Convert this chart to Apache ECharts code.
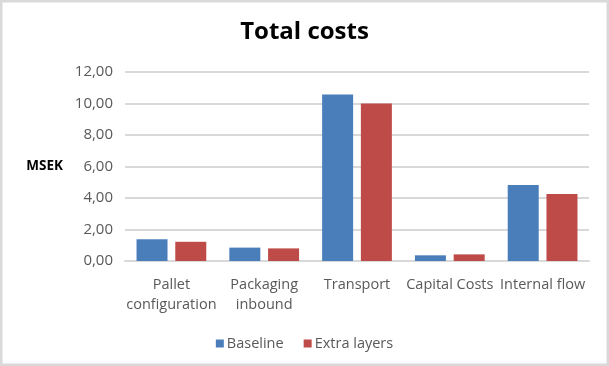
<!DOCTYPE html>
<html>
<head>
<meta charset="utf-8">
<script src="https://cdn.jsdelivr.net/npm/echarts@6/dist/echarts.min.js"></script>
<style>
  html, body { margin: 0; padding: 0; background: #ffffff; }
  #chart { width: 609px; height: 366px; }
</style>
</head>
<body>
<div id="chart"></div>
<script>
// Cost categories (line breaks mirror the wrapped axis labels)
const categories = ['Pallet\nconfiguration', 'Packaging\ninbound', 'Transport', 'Capital Costs', 'Internal flow'];
// Total costs in MSEK per scenario
const baseline = [1.38, 0.85, 10.57, 0.36, 4.82];
const extraLayers = [1.22, 0.80, 10.00, 0.42, 4.25];
const seriesNames = ['Baseline', 'Extra layers'];
// Value axis range
const yMin = 0;
const yMax = 12;
const yStep = 2;

const font = '"Open Sans", "Liberation Sans", sans-serif';
const chart = echarts.init(document.getElementById('chart'), null, { renderer: 'canvas' });

chart.setOption({
  animation: false,
  backgroundColor: '#ffffff',
  title: {
    text: 'Total costs',
    left: 'center',
    top: 15,
    textStyle: { fontFamily: font, fontSize: 24, fontWeight: 'bold', color: '#000000' }
  },
  graphic: [{
    type: 'rect',
    shape: { x: 1, y: 1, width: 607, height: 364 },
    style: { fill: null, stroke: '#d9d9d9', lineWidth: 3 },
    silent: true
  }],
  legend: {
    data: seriesNames,
    top: 331,
    left: 'center',
    itemWidth: 8,
    itemHeight: 8,
    itemGap: 20,
    icon: 'rect',
    textStyle: { fontFamily: font, fontSize: 14.5, color: '#595959', padding: [0, 0, 0, -2] }
  },
  grid: { left: 125, right: 20, top: 72, bottom: 105 },
  xAxis: {
    type: 'category',
    data: categories,
    axisLine: { lineStyle: { color: '#d9d9d9', width: 2 } },
    axisTick: { show: false },
    axisLabel: {
      interval: 0,
      margin: 14,
      fontFamily: font,
      fontSize: 14.5,
      lineHeight: 20,
      color: '#595959'
    }
  },
  yAxis: {
    type: 'value',
    min: yMin,
    max: yMax,
    interval: yStep,
    name: 'MSEK',
    nameLocation: 'middle',
    nameRotate: 0,
    nameGap: 62,
    nameTextStyle: { fontFamily: font, fontSize: 13.5, fontWeight: 'bold', color: '#000000' },
    axisLine: { show: false },
    axisTick: { show: false },
    axisLabel: {
      margin: 12,
      fontFamily: font,
      fontSize: 15,
      color: '#595959',
      formatter: v => v.toFixed(2).replace('.', ',')
    },
    splitLine: { lineStyle: { color: '#d9d9d9', width: 2 } }
  },
  series: [
    {
      name: seriesNames[0],
      type: 'bar',
      data: baseline,
      barWidth: 31,
      barGap: '25%',
      itemStyle: { color: '#4a7ebb' }
    },
    {
      name: seriesNames[1],
      type: 'bar',
      data: extraLayers,
      barWidth: 31,
      barGap: '25%',
      itemStyle: { color: '#be4b48' }
    }
  ]
});
</script>
</body>
</html>
